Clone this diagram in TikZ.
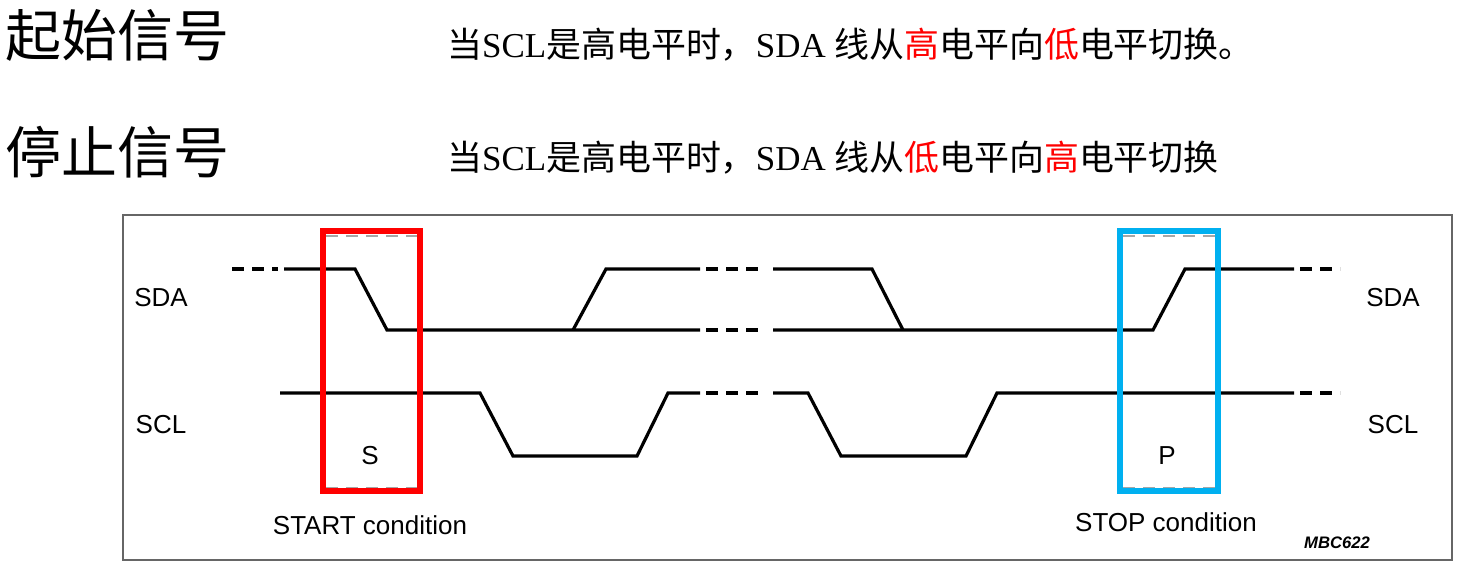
\documentclass[tikz,border=0pt]{standalone}
\usepackage{fontspec}
\setmainfont{Liberation Serif}
\newfontfamily\cjk{Noto Sans CJK SC}
\newfontfamily\arial{Liberation Sans}
\begin{document}
\begin{tikzpicture}[x=0.75pt,y=-0.75pt,
  sig/.style={line width=2.4pt},
  dsh/.style={line width=2.4pt,dash pattern=on 9pt off 6pt},
  lbl/.style={font=\arial\fontsize{19.5}{22}\selectfont,inner sep=0pt},
  box/.style={line width=3.8pt},
  inner/.style={gray!70,line width=1pt,dash pattern=on 9pt off 6pt}]
\useasboundingbox (0,0) rectangle (1460,570);
\definecolor{cyanbox}{RGB}{0,176,240}
% titles
\node[anchor=west,inner sep=0pt,font=\cjk\fontsize{42}{44}\selectfont] (t1) at (5,35) {起始信号};
\node[anchor=west,inner sep=0pt,font=\cjk\fontsize{42}{44}\selectfont] (t2) at (5,152) {停止信号};
\node[anchor=west,inner sep=0pt,font=\fontsize{26.2}{28}\selectfont] (d1) at (447,45) {{\cjk 当}SCL{\cjk 是高电平时，}SDA {\cjk 线从\textcolor{red}{高}电平向\textcolor{red}{低}电平切换。}};
\node[anchor=west,inner sep=0pt,font=\fontsize{26.2}{28}\selectfont] (d2) at (447,158) {{\cjk 当}SCL{\cjk 是高电平时，}SDA {\cjk 线从\textcolor{red}{低}电平向\textcolor{red}{高}电平切换}};
% frame
\draw[gray!80!black,line width=1pt] (123,215) rectangle (1452,560);
% SDA
\draw[dsh] (232,269) -- (278,269);
\draw[sig] (284,269) -- (355,269) -- (387,330) -- (700,330);
\draw[sig] (573,330) -- (606,269) -- (700,269);
\draw[dsh] (706,269) -- (766,269);
\draw[dsh] (706,330) -- (766,330);
\draw[sig] (773,269) -- (872,269) -- (903,330);
\draw[sig] (773,330) -- (1153,330) -- (1185,269) -- (1294,269);
\draw[dsh] (1300,269) -- (1340,269);
% SCL
\draw[sig] (280,393) -- (480,393) -- (513,456) -- (637,456) -- (668,393) -- (700,393);
\draw[dsh] (706,393) -- (766,393);
\draw[sig] (773,393) -- (808,393) -- (841,456) -- (966,456) -- (997,393) -- (1294,393);
\draw[dsh] (1300,393) -- (1340,393);
% boxes
\draw[inner] (326,236) -- (417,236) (326,488) -- (417,488);
\draw[inner] (1123,236) -- (1215,236) (1123,488) -- (1215,488);
\draw[box,red] (323,231) rectangle (420,491);
\draw[box,cyanbox] (1120,231) rectangle (1218,491);
% labels
\node[lbl] (la) at (161,298) {SDA};
\node[lbl] (lc) at (161,425) {SCL};
\node[lbl] (ra) at (1393,298) {SDA};
\node[lbl] (rc) at (1393,425) {SCL};
\node[lbl] (s) at (370,456) {S};
\node[lbl] (p) at (1167,456) {P};
\node[lbl] (st) at (370,525) {START condition};
\node[lbl] (sp) at (1166,522) {STOP condition};
\node[inner sep=0pt,font=\arial\bfseries\itshape\fontsize{12.5}{13}\selectfont] (m) at (1337,543) {MBC622};
\end{tikzpicture}
\end{document}
